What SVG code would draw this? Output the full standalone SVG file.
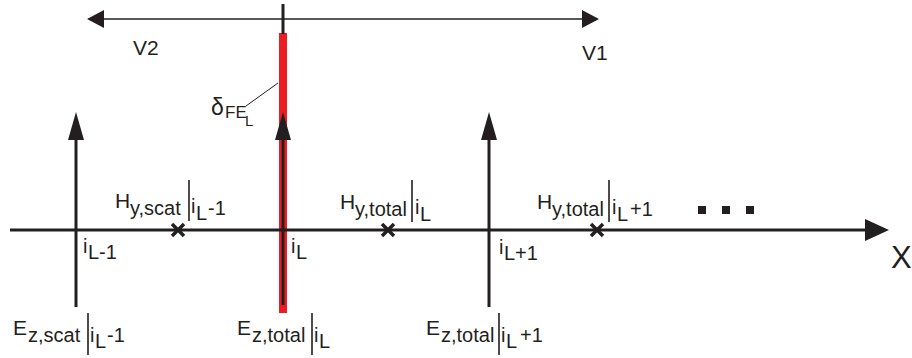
<svg xmlns="http://www.w3.org/2000/svg" width="912" height="358" viewBox="0 0 912 358">
<style>
text{font-family:"Liberation Sans",Arial,sans-serif;fill:#231f20;}
.m{font-size:21px;}
.s{font-size:20px;}
.ax{stroke:#231f20;stroke-width:3;fill:none;}
.thin{stroke:#231f20;stroke-width:1.5;fill:none;}
.bar{stroke:#231f20;stroke-width:1.6;}
.cross{stroke:#231f20;stroke-width:3.5;}
.head{fill:#231f20;}
</style>
<rect width="912" height="358" fill="#fff"/>
<g id="connectors">
  <line class="thin" x1="100" y1="19" x2="586" y2="19"/>
  <polygon class="head" points="87,19 104,10 104,28"/>
  <polygon class="head" points="599,19 582,10 582,28"/>
  <rect x="279" y="33" width="8" height="280" fill="#ed1c24"/>
  <line class="ax" x1="283" y1="4" x2="283" y2="34"/>
  <line class="ax" x1="10" y1="230" x2="870" y2="230"/>
  <polygon class="head" points="889,230 865,219 865,241"/>
  <line class="ax" x1="76" y1="132" x2="76" y2="307"/>
  <polygon class="head" points="76,112 68,140 84,140"/>
  <line class="ax" x1="283" y1="132" x2="283" y2="305"/>
  <polygon class="head" points="283,112 275,140 291,140"/>
  <line class="ax" x1="489" y1="132" x2="489" y2="307"/>
  <polygon class="head" points="489,112 481,140 497,140"/>
  <line stroke="#231f20" stroke-width="1" x1="246" y1="106" x2="278" y2="83"/>
</g>
<g id="v-labels">
  <text class="m" x="133" y="55">V2</text>
  <text class="m" x="582" y="60">V1</text>
</g>
<g id="delta">
  <text x="211" y="115" font-size="23">δ</text>
  <text x="225" y="118" font-size="17">FE</text>
  <text x="245" y="126" font-size="15">L</text>
</g>
<g id="crosses">
  <path class="cross" d="M172,224 L184,236 M184,224 L172,236"/>
  <path class="cross" d="M382,224 L394,236 M394,224 L382,236"/>
  <path class="cross" d="M591,224 L603,236 M603,224 L591,236"/>
</g>
<g id="dots">
  <rect class="head" x="698" y="206" width="8" height="8"/>
  <rect class="head" x="722" y="206" width="8" height="8"/>
  <rect class="head" x="746" y="206" width="8" height="8"/>
</g>
<g id="node-indices">
  <text class="s" x="83" y="253">i<tspan x="88" y="259">L-1</tspan></text>
  <text class="s" x="291" y="253">i<tspan x="296" y="259">L</tspan></text>
  <text class="s" x="499" y="254">i<tspan x="504" y="260">L+1</tspan></text>
</g>
<g id="H-labels">
  <text class="m" x="115" y="208">H<tspan class="s" x="130" y="215">y,scat</tspan><tspan class="s" x="191" y="213">i</tspan><tspan class="s" x="196" y="220">L</tspan><tspan class="s" x="208" y="215">-1</tspan></text>
  <line class="bar" x1="189" y1="180" x2="189" y2="221"/>
  <text class="m" x="340" y="209">H<tspan class="s" x="355" y="216">y,total</tspan><tspan class="s" x="415" y="214">i</tspan><tspan class="s" x="420" y="221">L</tspan></text>
  <line class="bar" x1="412" y1="180" x2="412" y2="222"/>
  <text class="m" x="537" y="209">H<tspan class="s" x="552" y="216">y,total</tspan><tspan class="s" x="612" y="214">i</tspan><tspan class="s" x="617" y="221">L</tspan><tspan class="s" x="630" y="216">+1</tspan></text>
  <line class="bar" x1="609" y1="180" x2="609" y2="222"/>
</g>
<g id="E-labels">
  <text class="m" x="13" y="335">E<tspan class="s" x="28" y="342">z,scat</tspan><tspan class="s" x="90" y="342">i</tspan><tspan class="s" x="95" y="348">L</tspan><tspan class="s" x="107" y="342">-1</tspan></text>
  <line class="bar" x1="88" y1="313" x2="88" y2="355"/>
  <text class="m" x="237" y="335">E<tspan class="s" x="252" y="342">z,total</tspan><tspan class="s" x="314" y="342">i</tspan><tspan class="s" x="319" y="348">L</tspan></text>
  <line class="bar" x1="312" y1="313" x2="312" y2="355"/>
  <text class="m" x="426" y="335">E<tspan class="s" x="441" y="342">z,total</tspan><tspan class="s" x="501" y="342">i</tspan><tspan class="s" x="506" y="348">L</tspan><tspan class="s" x="520" y="342">+1</tspan></text>
  <line class="bar" x1="499" y1="313" x2="499" y2="355"/>
</g>
<g id="axis-label">
  <text x="891" y="268" font-size="31">X</text>
</g>
</svg>
